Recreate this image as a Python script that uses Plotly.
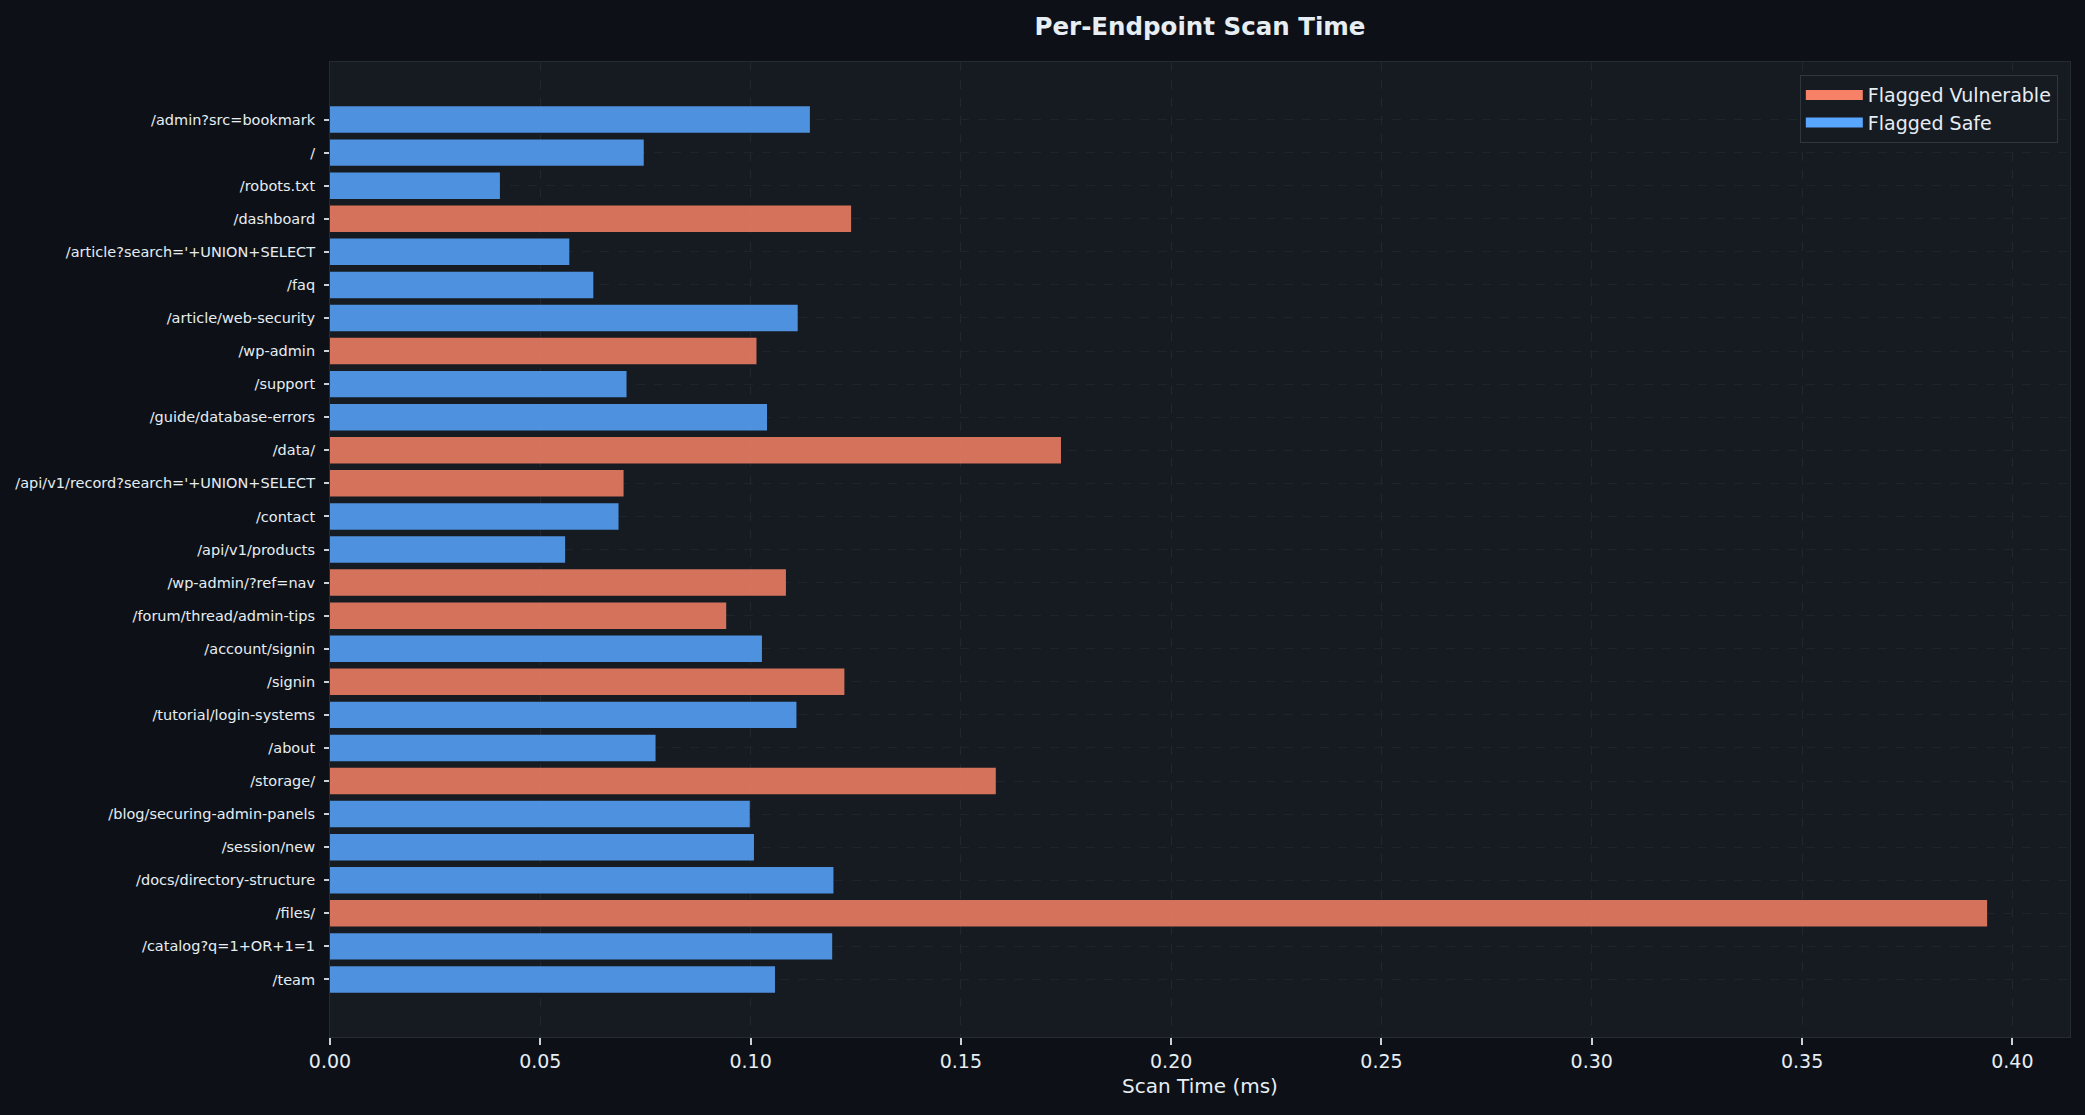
import plotly.graph_objects as go

endpoints = [
    "/admin?src=bookmark", "/", "/robots.txt", "/dashboard",
    "/article?search='+UNION+SELECT", "/faq", "/article/web-security", "/wp-admin",
    "/support", "/guide/database-errors", "/data/", "/api/v1/record?search='+UNION+SELECT",
    "/contact", "/api/v1/products", "/wp-admin/?ref=nav", "/forum/thread/admin-tips",
    "/account/signin", "/signin", "/tutorial/login-systems", "/about",
    "/storage/", "/blog/securing-admin-panels", "/session/new", "/docs/directory-structure",
    "/files/", "/catalog?q=1+OR+1=1", "/team",
]
scan_ms = [
    0.1141, 0.0746, 0.0404, 0.1239,
    0.0569, 0.0626, 0.1112, 0.1014,
    0.0705, 0.1039, 0.1738, 0.0698,
    0.0686, 0.0559, 0.1084, 0.0942,
    0.1027, 0.1223, 0.1109, 0.0774,
    0.1583, 0.0998, 0.1008, 0.1197,
    0.3940, 0.1194, 0.1058,
]
vulnerable = [
    False, False, False, True,
    False, False, False, True,
    False, False, True, True,
    False, False, True, True,
    False, True, False, False,
    True, False, False, False,
    True, False, False,
]
x_ticks = [0.00, 0.05, 0.10, 0.15, 0.20, 0.25, 0.30, 0.35, 0.40]

RED = "#F78166"
BLUE = "#58A6FF"
RED_BAR = "rgba(247,129,102,0.85)"
BLUE_BAR = "rgba(88,166,255,0.85)"

vy = [e for e, v in zip(endpoints, vulnerable) if v]
vx = [s for s, v in zip(scan_ms, vulnerable) if v]
sy = [e for e, v in zip(endpoints, vulnerable) if not v]
sx = [s for s, v in zip(scan_ms, vulnerable) if not v]

fig = go.Figure()
fig.add_trace(go.Bar(y=vy, x=vx, orientation="h", width=0.8,
                     marker=dict(color=RED_BAR, line=dict(width=0)),
                     showlegend=False, hoverinfo="x+y"))
fig.add_trace(go.Bar(y=sy, x=sx, orientation="h", width=0.8,
                     marker=dict(color=BLUE_BAR, line=dict(width=0)),
                     showlegend=False, hoverinfo="x+y"))
# legend entries (wide rectangular swatches)
fig.add_trace(go.Scatter(y=[None], x=[None], mode="lines", name="Flagged Vulnerable",
                         line=dict(color=RED, width=16)))
fig.add_trace(go.Scatter(y=[None], x=[None], mode="lines", name="Flagged Safe",
                         line=dict(color=BLUE, width=16)))

n = len(endpoints)
fig.update_layout(
    width=2085, height=1115,
    paper_bgcolor="#0d1117",
    plot_bgcolor="#161b22",
    barmode="overlay",
    margin=dict(l=330, r=15, t=62, b=78),
    font=dict(family="DejaVu Sans", color="#c9d1d9"),
    title=dict(text="<b>Per-Endpoint Scan Time</b>", x=0.5, xanchor="center",
               xref="paper", y=1 - 26 / 1115, yref="container", yanchor="middle",
               font=dict(size=24.5, color="#e6edf3", family="DejaVu Sans")),
    legend=dict(x=0.993, y=0.9866, xanchor="right", yanchor="top",
                bgcolor="#161b22", bordercolor="#30363d", borderwidth=1,
                font=dict(size=19, color="#e6edf3"), itemwidth=57),
    xaxis=dict(
        range=[0, 0.4137], tickvals=x_ticks, ticktext=[f"{t:.2f}" for t in x_ticks],
        showgrid=True, gridcolor="#22272f", griddash="dash", gridwidth=1,
        zeroline=False, showline=True, linecolor="#262b33", linewidth=1, mirror=True,
        ticks="outside", ticklen=7, tickcolor="#c9d1d9", tickwidth=1.5,
        tickfont=dict(size=19, color="#e6edf3"),
        title=dict(text="Scan Time (ms)", font=dict(size=20, color="#e6edf3"), standoff=8),
    ),
    yaxis=dict(
        type="category", categoryorder="array", categoryarray=endpoints,
        range=[n - 1 + 1.74, -1.74],
        showgrid=True, gridcolor="#1f242c", griddash="dash", gridwidth=1,
        zeroline=False, showline=True, linecolor="#262b33", linewidth=1, mirror=True,
        ticks="outside", ticklen=5, tickcolor="#c9d1d9", tickwidth=1.5,
        tickfont=dict(size=14.5, color="#e6edf3"), ticklabelstandoff=6,
    ),
)

fig.write_html("out.html")
